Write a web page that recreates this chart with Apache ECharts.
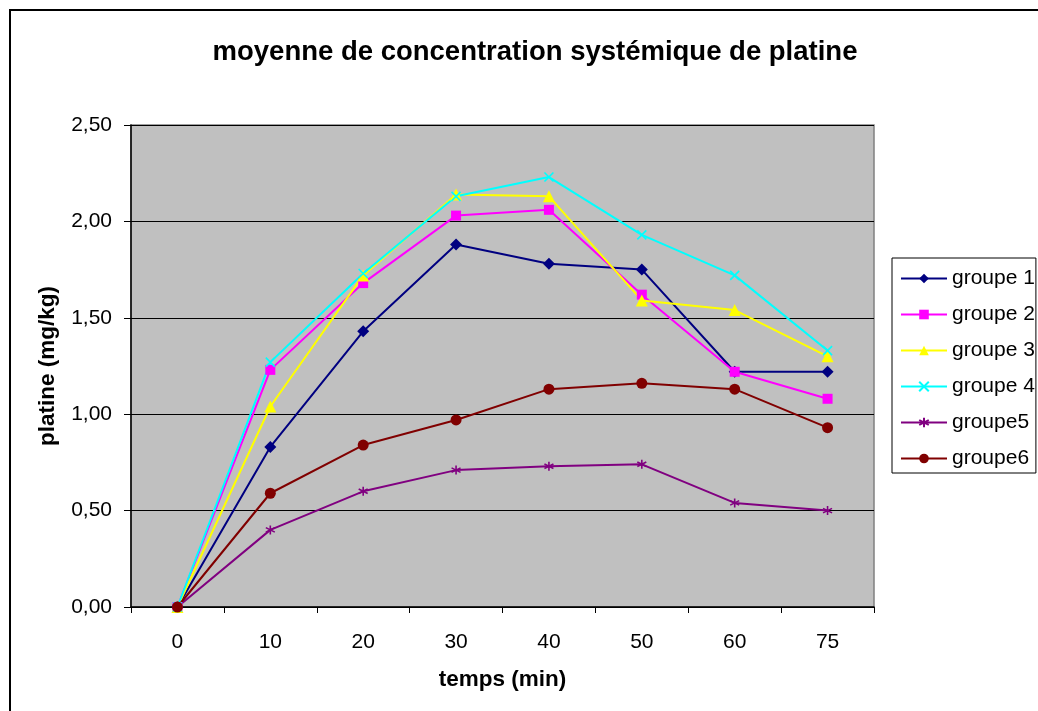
<!DOCTYPE html>
<html>
<head>
<meta charset="utf-8">
<script src="https://cdn.jsdelivr.net/npm/echarts@6/dist/echarts.min.js"></script>
<style>
html,body{margin:0;padding:0;background:#fff;}
#chart{width:1038px;height:711px;}
</style>
</head>
<body>
<div id="chart"></div>
<script>
var categories = ['0','10','20','30','40','50','60','75'];
var groupe1 = [0, 0.83, 1.43, 1.88, 1.78, 1.75, 1.22, 1.22];
var groupe2 = [0, 1.23, 1.68, 2.03, 2.06, 1.62, 1.22, 1.08];
var groupe3 = [0, 1.04, 1.72, 2.14, 2.13, 1.59, 1.54, 1.30];
var groupe4 = [0, 1.27, 1.73, 2.13, 2.23, 1.93, 1.72, 1.33];
var groupe5 = [0, 0.40, 0.60, 0.71, 0.73, 0.74, 0.54, 0.50];
var groupe6 = [0, 0.59, 0.84, 0.97, 1.13, 1.16, 1.13, 0.93];
var seriesNames = ['groupe 1','groupe 2','groupe 3','groupe 4','groupe5','groupe6'];
var yTicks = {min: 0, max: 2.5, interval: 0.5};

var FONT = 'Arial, "Liberation Sans", sans-serif';
var xPath = 'path://M0,0L10,10M10,0L0,10';
var starPath = 'path://M5,0L5,10M0.7,2.5L9.3,7.5M9.3,2.5L0.7,7.5';

function mk(name, data, color, symbol, size, stroke) {
  return {
    name: name, type: 'line', data: data,
    symbol: symbol, symbolSize: size,
    lineStyle: {color: color, width: 2},
    itemStyle: stroke ? {color: color, borderColor: color, borderWidth: 1.6}
                      : {color: color, borderWidth: 0},
    emphasis: {disabled: true},
    animation: false
  };
}

var chart = echarts.init(document.getElementById('chart'), null, {renderer: 'canvas'});
chart.setOption({
  backgroundColor: '#ffffff',
  animation: false,
  title: {
    text: 'moyenne de concentration systémique de platine',
    left: 530, top: 33, textAlign: 'center',
    textStyle: {fontFamily: FONT, fontSize: 27.5, fontWeight: 'bold', color: '#000'}
  },
  graphic: [{
    type: 'rect', silent: true, z: -1,
    shape: {x: 10, y: 10, width: 1100, height: 800},
    style: {fill: 'none', stroke: '#000', lineWidth: 2}
  }],
  legend: {
    orient: 'vertical', left: 892, top: 258,
    itemWidth: 46, itemHeight: 12, itemGap: 15,
    padding: [10, 1, 4, 8],
    backgroundColor: '#fff', borderColor: '#000', borderWidth: 1,
    textStyle: {fontFamily: FONT, fontSize: 21, color: '#000', lineHeight: 21},
    data: seriesNames
  },
  grid: {
    left: 131, right: 164, top: 125, bottom: 104,
    show: true, backgroundColor: '#C0C0C0', borderColor: '#808080', borderWidth: 1.5
  },
  xAxis: {
    type: 'category', data: categories, boundaryGap: true,
    name: 'temps (min)', nameLocation: 'middle', nameGap: 61,
    nameTextStyle: {fontFamily: FONT, fontSize: 22.5, fontWeight: 'bold', color: '#000'},
    axisLine: {lineStyle: {color: '#000', width: 1.5}},
    axisTick: {show: true, length: 6, inside: false, lineStyle: {color: '#000'}},
    axisLabel: {fontFamily: FONT, fontSize: 21, color: '#000', margin: 25},
    splitLine: {show: false}
  },
  yAxis: {
    type: 'value', min: yTicks.min, max: yTicks.max, interval: yTicks.interval,
    name: 'platine (mg/kg)', nameLocation: 'middle', nameGap: 72,
    nameTextStyle: {fontFamily: FONT, fontSize: 22.5, fontWeight: 'bold', color: '#000'},
    axisLine: {show: true, lineStyle: {color: '#000', width: 1.5}},
    axisTick: {show: true, length: 7, inside: false, lineStyle: {color: '#000'}},
    axisLabel: {
      fontFamily: FONT, fontSize: 21, color: '#000', margin: 19,
      formatter: function (v) { return v.toFixed(2).replace('.', ','); }
    },
    splitLine: {show: true, lineStyle: {color: '#000', width: 1.2}}
  },
  series: [
    mk(seriesNames[0], groupe1, '#000080', 'diamond', 12, false),
    mk(seriesNames[1], groupe2, '#FF00FF', 'rect', 10, false),
    mk(seriesNames[2], groupe3, '#FFFF00', 'triangle', 12, false),
    mk(seriesNames[3], groupe4, '#00FFFF', xPath, 9, true),
    mk(seriesNames[4], groupe5, '#800080', starPath, 9, true),
    mk(seriesNames[5], groupe6, '#800000', 'circle', 11, false)
  ]
});
</script>
</body>
</html>
